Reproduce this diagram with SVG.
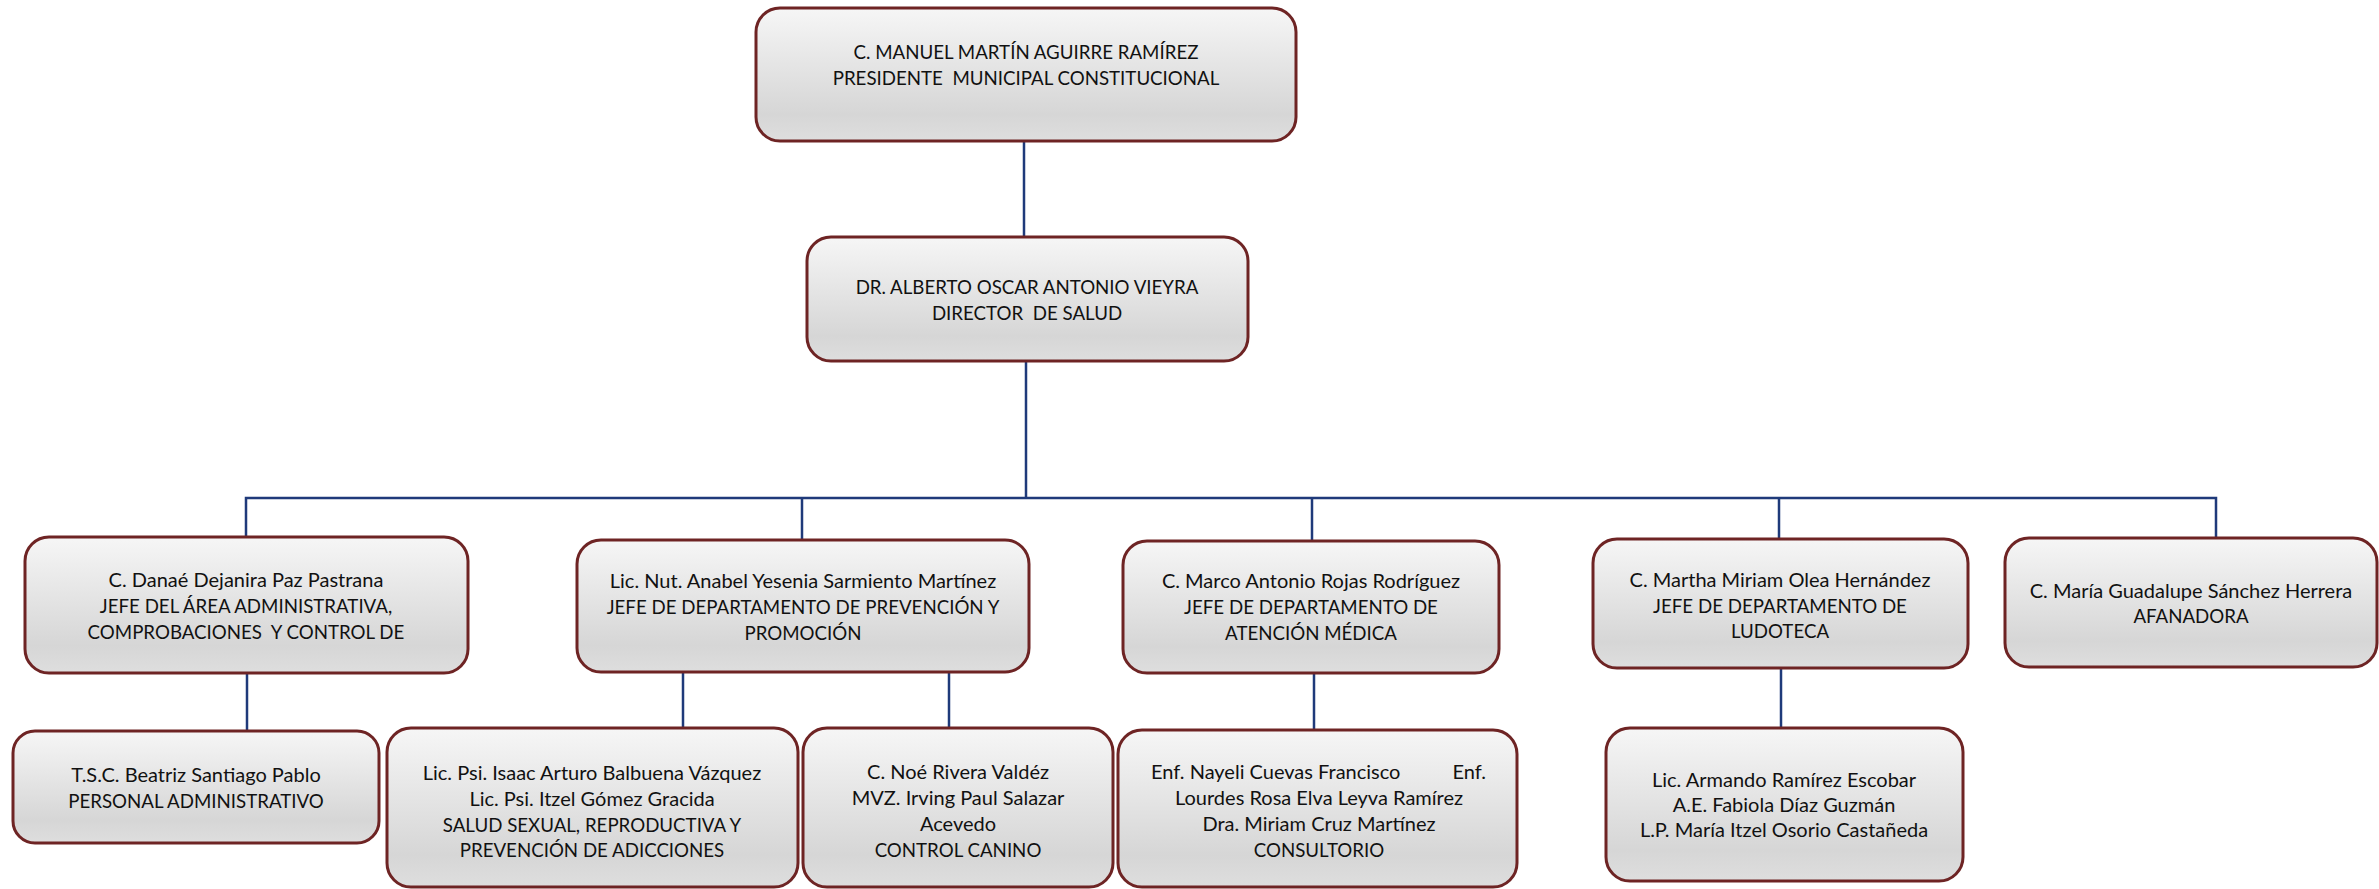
<svg xmlns="http://www.w3.org/2000/svg" width="2379" height="889" viewBox="0 0 2379 889">
<defs>
<linearGradient id="g" x1="0" y1="0" x2="0" y2="1">
<stop offset="0" stop-color="#f6f6f6"/>
<stop offset="0.8" stop-color="#d6d6d6"/>
<stop offset="1" stop-color="#dedede"/>
</linearGradient>
</defs>
<style>
.box{fill:url(#g);stroke:#6e2424;stroke-width:3}
.t{font-family:Lato,"Liberation Sans",sans-serif;font-size:20px;fill:#111;text-anchor:middle}
.u{font-size:18.7px}
.c{stroke:#1f3a7a;stroke-width:2.5;fill:none}
</style>
<g id="connectors">
<line class="c" x1="1024" y1="141" x2="1024" y2="237"/>
<line class="c" x1="1026" y1="361" x2="1026" y2="498"/>
<polyline class="c" points="246,537 246,498 2216,498 2216,538"/>
<line class="c" x1="802" y1="498" x2="802" y2="540"/>
<line class="c" x1="1312" y1="498" x2="1312" y2="541"/>
<line class="c" x1="1779" y1="498" x2="1779" y2="539"/>
<line class="c" x1="247" y1="672" x2="247" y2="731"/>
<line class="c" x1="683" y1="672" x2="683" y2="728"/>
<line class="c" x1="949" y1="672" x2="949" y2="728"/>
<line class="c" x1="1314" y1="673" x2="1314" y2="730"/>
<line class="c" x1="1781" y1="668" x2="1781" y2="728"/>
</g>
<g id="presidente">
<rect class="box" x="756" y="8" width="540" height="133" rx="24"/>
<text class="t u" x="1026" y="59">C. MANUEL MARTÍN AGUIRRE RAMÍREZ</text>
<text class="t u" x="1026" y="85" xml:space="preserve">PRESIDENTE  MUNICIPAL CONSTITUCIONAL</text>
</g>
<g id="director">
<rect class="box" x="807" y="237" width="441" height="124" rx="24"/>
<text class="t u" x="1027" y="294">DR. ALBERTO OSCAR ANTONIO VIEYRA</text>
<text class="t u" x="1027" y="320" xml:space="preserve">DIRECTOR  DE SALUD</text>
</g>
<g id="danae">
<rect class="box" x="25" y="537" width="443" height="136" rx="24"/>
<text class="t" x="246" y="587">C. Danaé Dejanira Paz Pastrana</text>
<text class="t u" x="246" y="613">JEFE DEL ÁREA ADMINISTRATIVA,</text>
<text class="t u" x="246" y="639" xml:space="preserve">COMPROBACIONES  Y CONTROL DE</text>
</g>
<g id="anabel">
<rect class="box" x="577" y="540" width="452" height="132" rx="24"/>
<text class="t" x="803" y="588">Lic. Nut. Anabel Yesenia Sarmiento Martínez</text>
<text class="t u" x="803" y="614">JEFE DE DEPARTAMENTO DE PREVENCIÓN Y</text>
<text class="t u" x="803" y="640">PROMOCIÓN</text>
</g>
<g id="marco">
<rect class="box" x="1123" y="541" width="376" height="132" rx="24"/>
<text class="t" x="1311" y="588">C. Marco Antonio Rojas Rodríguez</text>
<text class="t u" x="1311" y="614">JEFE DE DEPARTAMENTO DE</text>
<text class="t u" x="1311" y="640">ATENCIÓN MÉDICA</text>
</g>
<g id="martha">
<rect class="box" x="1593" y="539" width="375" height="129" rx="24"/>
<text class="t" x="1780" y="587">C. Martha Miriam Olea Hernández</text>
<text class="t u" x="1780" y="613">JEFE DE DEPARTAMENTO DE</text>
<text class="t u" x="1780" y="638">LUDOTECA</text>
</g>
<g id="maria">
<rect class="box" x="2005" y="538" width="372" height="129" rx="24"/>
<text class="t" x="2191" y="598">C. María Guadalupe Sánchez Herrera</text>
<text class="t u" x="2191" y="623">AFANADORA</text>
</g>
<g id="beatriz">
<rect class="box" x="13" y="731" width="366" height="112" rx="22"/>
<text class="t" x="196" y="782">T.S.C. Beatriz Santiago Pablo</text>
<text class="t u" x="196" y="808">PERSONAL ADMINISTRATIVO</text>
</g>
<g id="isaac">
<rect class="box" x="387" y="728" width="411" height="159" rx="24"/>
<text class="t" x="592" y="780">Lic. Psi. Isaac Arturo Balbuena Vázquez</text>
<text class="t" x="592" y="806">Lic. Psi. Itzel Gómez Gracida</text>
<text class="t u" x="592" y="832">SALUD SEXUAL, REPRODUCTIVA Y</text>
<text class="t u" x="592" y="857">PREVENCIÓN DE ADICCIONES</text>
</g>
<g id="noe">
<rect class="box" x="803" y="728" width="310" height="159" rx="24"/>
<text class="t" x="958" y="779">C. Noé Rivera Valdéz</text>
<text class="t" x="958" y="805">MVZ. Irving Paul Salazar</text>
<text class="t" x="958" y="831">Acevedo</text>
<text class="t u" x="958" y="857">CONTROL CANINO</text>
</g>
<g id="consultorio">
<rect class="box" x="1118" y="730" width="399" height="157" rx="24"/>
<text class="t" x="1317" y="779"><tspan x="1151" text-anchor="start">Enf. Nayeli Cuevas Francisco</tspan><tspan x="1486" text-anchor="end">Enf.</tspan></text>
<text class="t" x="1319" y="805">Lourdes Rosa Elva Leyva Ramírez</text>
<text class="t" x="1319" y="831">Dra. Miriam Cruz Martínez</text>
<text class="t u" x="1319" y="857">CONSULTORIO</text>
</g>
<g id="ludoteca">
<rect class="box" x="1606" y="728" width="357" height="153" rx="24"/>
<text class="t" x="1784" y="787">Lic. Armando Ramírez Escobar</text>
<text class="t" x="1784" y="812">A.E. Fabiola Díaz Guzmán</text>
<text class="t" x="1784" y="837">L.P. María Itzel Osorio Castañeda</text>
</g>
</svg>
